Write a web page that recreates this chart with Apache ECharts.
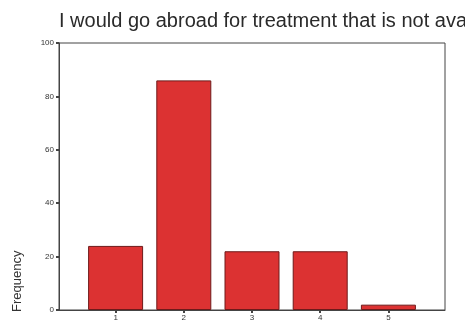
<!DOCTYPE html>
<html>
<head>
<meta charset="utf-8">
<script src="https://cdn.jsdelivr.net/npm/echarts@6/dist/echarts.min.js"></script>
<style>
  html, body { margin: 0; padding: 0; background: #fff; }
  #chart { width: 465px; height: 324px; }
</style>
</head>
<body>
<div id="chart"></div>
<script>
const categories = [1, 2, 3, 4, 5];
const frequency = [24, 86, 22, 22, 2];
const yTicks = [0, 20, 40, 60, 80, 100];

const chart = echarts.init(document.getElementById('chart'));

const option = {
  animation: false,
  title: {
    text: 'I would go abroad for treatment that is not available',
    left: 54,
    top: 6,
    textStyle: { fontFamily: 'Liberation Sans', fontSize: 20, fontWeight: 'normal', color: '#2a2a2a' }
  },
  grid: {
    left: 59, right: 20, top: 43, bottom: 14,
    show: true, borderColor: '#444', borderWidth: 1
  },
  xAxis: {
    type: 'value',
    min: 0.17, max: 5.83,
    axisLine: { lineStyle: { color: '#444' } },
    axisTick: { show: true, customValues: categories, length: 3, lineStyle: { color: '#444', width: 2 } },
    axisLabel: { customValues: categories, fontSize: 8, color: '#333', margin: 4, fontFamily: 'Liberation Sans' },
    splitLine: { show: false }
  },
  yAxis: {
    type: 'value',
    min: 0, max: 100, interval: 20,
    axisLine: { show: true, lineStyle: { color: '#444' } },
    axisTick: { show: true, length: 3, lineStyle: { color: '#444', width: 2 } },
    axisLabel: { fontSize: 8, color: '#333', margin: 5, fontFamily: 'Liberation Sans' },
    splitLine: { show: false }
  },
  graphic: [{
    type: 'text',
    x: 11, y: 312,
    rotation: Math.PI / 2,
    style: { text: 'Frequency', fontSize: 13, fill: '#333', fontFamily: 'Liberation Sans' }
  }],
  series: [{
    type: 'bar',
    barWidth: 55,
    data: categories.map((c, i) => [c, frequency[i]]),
    itemStyle: { color: '#dc3232', borderColor: '#6e1a1a', borderWidth: 1 }
  }]
};

chart.setOption(option);
</script>
</body>
</html>
